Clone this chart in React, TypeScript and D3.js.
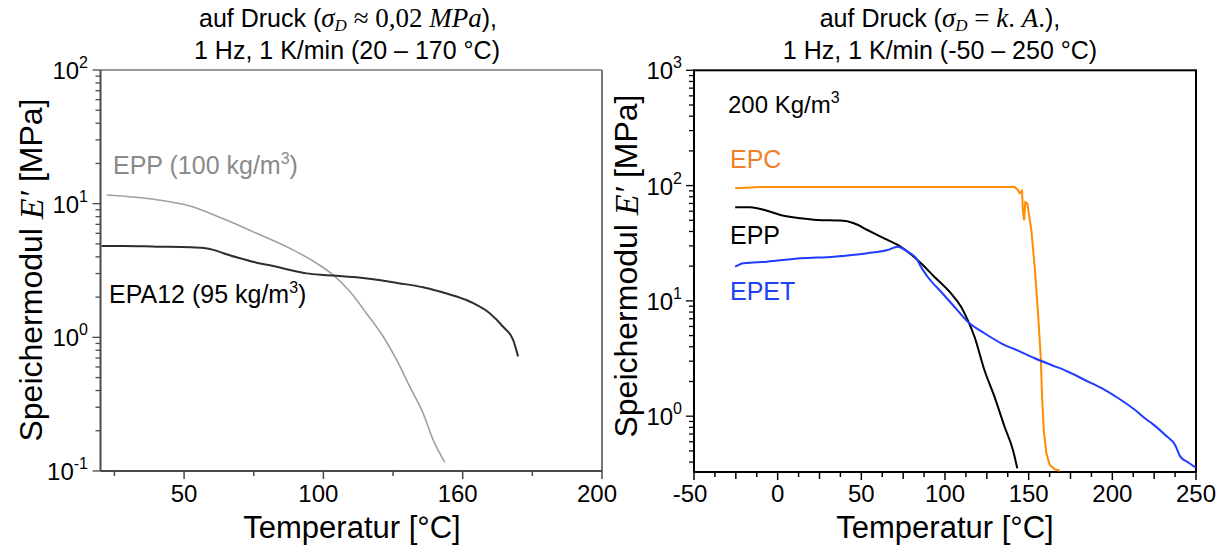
import React from 'react';
import * as d3 from 'd3';

// ---------- Left panel data ----------
const leftXTickValues = [50, 100, 150, 200];
const leftXTickLabels = ['50', '100', '160', '200'];
const leftXMinorTicks = [25, 75, 125, 175];
const leftYDecades = [-1, 0, 1, 2];

const eppLeftT = [22.2, 40.2, 52.1, 64.1, 76, 88, 97.6, 103.5, 109.5, 115.5, 121.5, 126.3, 131, 135.8, 139.4, 143.6];
const eppLeftE = [11.6, 10.7, 9.6, 7.7, 6.0, 4.63, 3.58, 2.93, 2.2, 1.51, 1.01, 0.678, 0.428, 0.27, 0.171, 0.116];

const epa12T = [20.4, 28.2, 40.2, 52.1, 57, 60.5, 64.1, 70.1, 76, 82, 88, 94, 99.9, 105.9, 111.9, 117.9, 123.9, 129.9, 135.8, 141.8, 147.8, 153.8, 159.8, 164.5, 168.1, 169.9];
const epa12E = [4.83, 4.83, 4.77, 4.72, 4.65, 4.51, 4.26, 3.9, 3.62, 3.42, 3.19, 3.01, 2.93, 2.88, 2.81, 2.72, 2.61, 2.49, 2.37, 2.2, 2.02, 1.8, 1.51, 1.2, 0.957, 0.718];

// ---------- Right panel data ----------
const rightXTickValues = [-50, 0, 50, 100, 150, 200, 250];
const rightXTickLabels = ['-50', '0', '50', '100', '150', '200', '250'];
const rightYDecades = [0, 1, 2, 3];

const epcT = [-25.4, -10, 25, 75, 125, 141.6, 143.5, 144.6, 146, 146.6, 147.3, 148, 149.2, 151.6, 153.6, 155.6, 157.2, 158, 159, 160.6, 162.6, 165.6, 168.6];
const epcE = [95, 97, 97, 97, 97, 97, 92, 86, 90, 60, 50, 72, 70, 41, 19.8, 7.8, 3.28, 1.48, 0.76, 0.477, 0.377, 0.346, 0.336];

const eppRightT = [-25.4, -16.4, -6.4, 1.6, 13.6, 23.6, 37.6, 45.6, 53.6, 63.6, 73.6, 83.6, 93.6, 103.6, 109.6, 113.6, 117.6, 123.6, 129.6, 135.6, 140.6, 143.2];
const eppRightE = [64.9, 64.9, 60.5, 55.6, 52, 50.3, 49.7, 47.1, 41.2, 34.9, 29.5, 22.6, 16.2, 11.6, 8.9, 6.8, 4.9, 2.5, 1.47, 0.81, 0.51, 0.353];

const epetT = [-25.4, -20.4, -6.4, 13.6, 33.6, 53.6, 65.6, 71.6, 77.6, 83.6, 85, 89.6, 97.6, 105.6, 113.6, 123.6, 133.6, 143.6, 153.6, 163.6, 173.6, 183.6, 193.6, 203.6, 213.6, 220.6, 223.6, 231.6, 237.6, 240.6, 245.6, 250];
const epetE = [19.8, 21.2, 21.9, 23.4, 24.2, 25.9, 27.6, 29.5, 26.7, 22.5, 20.5, 16.2, 12.0, 8.9, 6.6, 5.24, 4.29, 3.7, 3.18, 2.78, 2.43, 2.06, 1.75, 1.43, 1.13, 0.93, 0.867, 0.687, 0.56, 0.446, 0.395, 0.357];

const SANS = 'Liberation Sans, Arial, Helvetica, sans-serif';
const SERIF = 'Liberation Serif, DejaVu Serif, serif';

function zip(t: number[], e: number[]): [number, number][] {
  return t.map((v, i) => [v, e[i]]);
}

function YLabel({ x, y }: { x: number; y: number }) {
  return (
    <text x={x} y={y} transform={`rotate(-90 ${x} ${y})`} textAnchor="middle" dominantBaseline="central" fontFamily={SANS} fontSize={32} fill="#000">
      Speichermodul <tspan fontFamily={SERIF} fontStyle="italic" fontSize={34}>E′</tspan> [MPa]
    </text>
  );
}

function LogTicks({ y, decades, axisX, color, labelRight }: { y: d3.ScaleLogarithmic<number, number>; decades: number[]; axisX: number; color: string; labelRight: number }) {
  const [lo, hi] = y.domain();
  const els: JSX.Element[] = [];
  for (let d = decades[0] - 1; d <= decades[decades.length - 1]; d++) {
    for (let m = 1; m <= 9; m++) {
      const v = m * Math.pow(10, d);
      if (v < lo * 0.999 || v > hi * 1.001) continue;
      const py = y(v);
      const len = m === 1 ? 8 : 5;
      els.push(<line key={`t${d}-${m}`} x1={axisX - len} x2={axisX} y1={py} y2={py} stroke={color} strokeWidth={1.3} />);
    }
  }
  decades.forEach((d) => {
    const py = y(Math.pow(10, d));
    els.push(
      <text key={`l${d}`} x={labelRight} y={py + 9} textAnchor="end" fontFamily={SANS} fontSize={24} fill="#000">
        10<tspan fontSize={16} dy={-11}>{String(d)}</tspan>
      </text>
    );
  });
  return <g>{els}</g>;
}

export default function App() {
  // Left panel geometry
  const L = { x0: 100.5, x1: 602, y0: 70, y1: 471 };
  const xL = d3.scaleLinear().domain([20, 200]).range([L.x0, L.x1]);
  const yL = d3.scaleLog().domain([0.1, 100]).range([L.y1, L.y0]);
  const lineL = d3.line<[number, number]>().x((d) => xL(d[0])).y((d) => yL(d[1])).curve(d3.curveMonotoneX);

  // Right panel geometry
  const R = { x0: 694, x1: 1196, y0: 70.3, y1: 472 };
  const xR = d3.scaleLinear().domain([-50, 250]).range([R.x0, R.x1]);
  const yR = d3.scaleLog().domain([0.328, 1000]).range([R.y1, R.y0]);
  const lineR = d3.line<[number, number]>().x((d) => xR(d[0])).y((d) => yR(d[1])).curve(d3.curveMonotoneX);
  const lineRLin = d3.line<[number, number]>().x((d) => xR(d[0])).y((d) => yR(d[1]));

  const rightMinor: number[] = [];
  for (let v = -50; v <= 250; v += 12.5) rightMinor.push(v);

  const gray = '#4a4a4a';

  return (
    <svg width={1230} height={547} style={{ position: 'absolute', left: 0, top: 0, background: '#fff' }}>
      <rect x={0} y={0} width={1230} height={547} fill="#fff" />

      {/* ---------- LEFT PANEL ---------- */}
      <text x={348} y={27} textAnchor="middle" fontFamily={SANS} fontSize={25} fill="#000">
        auf Druck (<tspan fontFamily={SERIF} fontStyle="italic" fontSize={27}>σ</tspan>
        <tspan fontFamily={SERIF} fontStyle="italic" fontSize={17} dy={4}>D</tspan>
        <tspan fontFamily={SERIF} fontSize={27} dy={-4}> ≈ 0,02 </tspan>
        <tspan fontFamily={SERIF} fontStyle="italic" fontSize={27}>MPa</tspan>),
      </text>
      <text x={347} y={59} textAnchor="middle" fontFamily={SANS} fontSize={25} fill="#000">
        1 Hz, 1 K/min (20 – 170 °C)
      </text>

      <line x1={L.x0} x2={L.x1} y1={L.y0} y2={L.y0} stroke="#333" strokeWidth={1} />
      <line x1={L.x1} x2={L.x1} y1={L.y0} y2={L.y1} stroke="#777" strokeWidth={2} />
      <line x1={L.x0} x2={L.x1} y1={L.y1} y2={L.y1} stroke={gray} strokeWidth={2} />
      <line x1={L.x0} x2={L.x0} y1={L.y0} y2={L.y1} stroke={gray} strokeWidth={2} />

      {leftXMinorTicks.map((v) => (
        <line key={`lm${v}`} x1={xL(v)} x2={xL(v)} y1={L.y1} y2={L.y1 + 5} stroke={gray} strokeWidth={1.5} />
      ))}
      {leftXTickValues.map((v, i) => (
        <g key={`lx${v}`}>
          <line x1={xL(v)} x2={xL(v)} y1={L.y1} y2={L.y1 + 8} stroke={gray} strokeWidth={1.5} />
          <text x={xL(v) - (i > 0 ? 5 : 0)} y={502} textAnchor="middle" fontFamily={SANS} fontSize={24} fill="#000">
            {leftXTickLabels[i]}
          </text>
        </g>
      ))}
      <LogTicks y={yL} decades={leftYDecades} axisX={L.x0} color={gray} labelRight={88} />
      <YLabel x={31} y={270} />
      <text x={352} y={538} textAnchor="middle" fontFamily={SANS} fontSize={31} fill="#000">Temperatur [°C]</text>

      <path d={lineL(zip(eppLeftT, eppLeftE)) || ''} fill="none" stroke="#a0a0a0" strokeWidth={1.6} />
      <path d={lineL(zip(epa12T, epa12E)) || ''} fill="none" stroke="#2e2e2e" strokeWidth={2} />

      <text x={113} y={174} fontFamily={SANS} fontSize={25} fill="#8a8a8a">
        EPP (100 kg/m<tspan fontSize={16} dy={-10}>3</tspan><tspan dy={10}>)</tspan>
      </text>
      <text x={109} y={303} fontFamily={SANS} fontSize={25} fill="#000">
        EPA12 (95 kg/m<tspan fontSize={16} dy={-10}>3</tspan><tspan dy={10}>)</tspan>
      </text>

      {/* ---------- RIGHT PANEL ---------- */}
      <text x={940} y={27} textAnchor="middle" fontFamily={SANS} fontSize={25} fill="#000">
        auf Druck (<tspan fontFamily={SERIF} fontStyle="italic" fontSize={27}>σ</tspan>
        <tspan fontFamily={SERIF} fontStyle="italic" fontSize={17} dy={4}>D</tspan>
        <tspan fontFamily={SERIF} fontSize={27} dy={-4}> = </tspan>
        <tspan fontFamily={SERIF} fontStyle="italic" fontSize={27}>k</tspan>
        <tspan fontFamily={SERIF} fontSize={27}>. </tspan>
        <tspan fontFamily={SERIF} fontStyle="italic" fontSize={27}>A</tspan>
        <tspan fontFamily={SERIF} fontSize={27}>.</tspan>),
      </text>
      <text x={940} y={59} textAnchor="middle" fontFamily={SANS} fontSize={25} fill="#000">
        1 Hz, 1 K/min (-50 – 250 °C)
      </text>

      <rect x={R.x0} y={R.y0} width={R.x1 - R.x0} height={R.y1 - R.y0} fill="none" stroke="#000" strokeWidth={2} />
      {rightMinor.map((v) => {
        const major = Math.abs(v % 50) < 1e-6;
        const mid = Math.abs(v % 25) < 1e-6;
        return (
          <line key={`rm${v}`} x1={xR(v)} x2={xR(v)} y1={R.y1} y2={R.y1 + (major ? 8 : mid ? 7 : 5)} stroke="#000" strokeWidth={1.5} />
        );
      })}
      {rightXTickValues.map((v, i) => (
        <text key={`rx${v}`} x={xR(v) - (v < 0 ? 4 : 0)} y={502} textAnchor="middle" fontFamily={SANS} fontSize={24} fill="#000">
          {rightXTickLabels[i]}
        </text>
      ))}
      <LogTicks y={yR} decades={rightYDecades} axisX={R.x0} color="#000" labelRight={682} />
      <YLabel x={626} y={266} />
      <text x={945} y={538} textAnchor="middle" fontFamily={SANS} fontSize={31} fill="#000">Temperatur [°C]</text>

      <path d={lineRLin(zip(epcT, epcE)) || ''} fill="none" stroke="#ff8c00" strokeWidth={2} />
      <path d={lineR(zip(eppRightT, eppRightE)) || ''} fill="none" stroke="#000" strokeWidth={2} />
      <path d={lineR(zip(epetT, epetE)) || ''} fill="none" stroke="#1f3cff" strokeWidth={2} />

      <text x={728} y={113} fontFamily={SANS} fontSize={24} fill="#000">
        200 Kg/m<tspan fontSize={16} dy={-10}>3</tspan>
      </text>
      <text x={730} y={168} fontFamily={SANS} fontSize={25} fill="#f0802a">EPC</text>
      <text x={730} y={244} fontFamily={SANS} fontSize={25} fill="#000">EPP</text>
      <text x={730} y={300} fontFamily={SANS} fontSize={25} fill="#2040f5">EPET</text>
    </svg>
  );
}
